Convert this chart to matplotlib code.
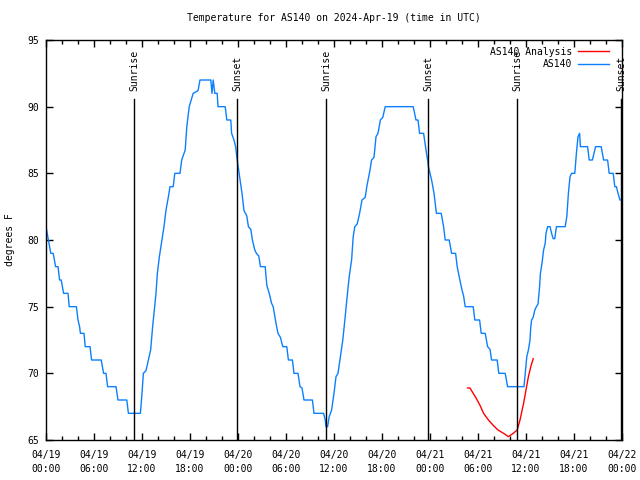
import pandas as pd
import matplotlib
matplotlib.use('Agg')
import matplotlib.pyplot as plt
import matplotlib.dates as mdates

start = pd.Timestamp('2024-04-19 00:00')

# AS140 observations: hours after 04/19 00:00 UTC, degrees F
obs_hours = [0, 0.3, 0.6, 0.9, 1.2, 1.5, 1.7, 1.9, 2.2, 2.75, 2.9, 3.8, 4.0, 4.2, 4.3, 4.75,
             4.9, 5.5, 5.7, 6.9, 7.2, 7.5, 7.7, 8.75, 9.0, 10.1, 10.3, 11.8, 12.0, 12.17,
             12.5, 12.8, 13.08, 13.33, 13.5, 13.75, 13.92, 14.17, 14.46, 14.75, 15.0, 15.3,
             15.5, 15.9, 16.1, 16.75, 16.96, 17.4, 17.6, 17.9, 18.4, 19.0, 19.25, 20.6,
             20.75, 20.9, 21.1, 21.4, 21.5, 22.4, 22.6, 23.1, 23.2, 23.5, 23.7, 23.9, 24.2,
             24.5, 24.75, 25.1, 25.3, 25.6, 25.8, 26.1, 26.3, 26.6, 26.8, 27.4, 27.6, 27.9,
             28.2, 28.4, 28.75, 29.0, 29.3, 29.6, 30.1, 30.3, 30.8, 31.0, 31.5, 31.75, 32.0,
             32.25, 33.3, 33.5, 34.7, 34.9, 35.0, 35.2, 35.4, 35.7, 36.0, 36.25, 36.5, 36.8,
             37.1, 37.4, 37.6, 37.9, 38.2, 38.4, 38.6, 38.9, 39.2, 39.5, 39.9, 40.1, 40.5,
             40.7, 41.0, 41.25, 41.5, 41.8, 42.1, 42.4, 45.9, 46.25, 46.5, 46.7, 47.2, 47.5,
             47.7, 47.8, 48.2, 48.5, 48.8, 49.4, 49.7, 49.9, 50.4, 50.7, 51.2, 51.4, 51.7,
             52.0, 52.2, 52.4, 53.4, 53.6, 54.2, 54.4, 54.9, 55.2, 55.5, 55.7, 56.4, 56.6,
             57.4, 57.7, 59.75, 59.9, 60.1, 60.3, 60.5, 60.6, 60.7, 60.9, 61.1, 61.3, 61.5,
             61.7, 61.8, 62.0, 62.2, 62.4, 62.5, 62.7, 63.0, 63.2, 63.4, 63.6, 63.8, 64.9,
             65.1, 65.3, 65.5, 65.7, 66.1, 66.3, 66.5, 66.7, 66.8, 67.7, 67.9, 68.3, 68.7,
             69.4, 69.7, 70.2, 70.4, 70.9, 71.1, 71.3, 71.5, 71.75, 71.95]
obs_temps = [81, 80, 79, 79, 78, 78, 77, 77, 76, 76, 75, 75, 74, 73.5, 73, 73,
             72, 72, 71, 71, 70, 70, 69, 69, 68, 68, 67, 67, 68.5, 70,
             70.2, 71, 71.75, 73.5, 74.5, 76, 77.5, 78.75, 79.9, 81, 82.25, 83.25,
             84, 84, 85, 85, 86, 86.75, 88.5, 90, 91, 91.2, 92, 92,
             91, 92, 91, 91, 90, 90, 89, 89, 88, 87.5, 87, 86, 84.75,
             83.5, 82.2, 81.8, 81, 80.8, 80, 79.25, 79, 78.8, 78, 78, 76.6, 76,
             75.25, 75, 73.75, 73, 72.7, 72, 72, 71, 71, 70, 70, 69, 68.9,
             68, 68, 67, 67, 66.5, 66, 66, 66.75, 67.25, 68.5, 69.75, 70, 71.25,
             72.5, 74.25, 75.5, 77.25, 78.5, 80.25, 81, 81.2, 82, 83, 83.2, 84, 85.25,
             86, 86.2, 87.75, 88, 89, 89.2, 90, 90, 89, 89, 88, 88, 86.75,
             86, 85.5, 84.5, 83.5, 82, 82, 81, 80, 80, 79, 79, 78, 77.1,
             76.25, 75.8, 75, 75, 74, 74, 73, 73, 72, 71.8, 71, 71, 70,
             70, 69, 69, 70, 71.25, 71.75, 72.5, 73.5, 74, 74.2, 74.75, 75, 75.2,
             76.5, 77.5, 78.25, 79.25, 79.75, 80.5, 81, 81, 80.5, 80.1, 80.1, 81, 81,
             81.75, 83.5, 84.75, 85, 85, 86.5, 87.75, 88, 87, 87, 86, 86, 87,
             87, 86, 86, 85, 85, 84, 84, 83.5, 83, 83]

# AS140 analysis
ana_hours = [52.7, 53.0, 53.4, 53.8, 54.25, 54.7, 55.3, 55.9, 56.5, 57.2, 57.8, 58.4,
             58.9, 59.25, 59.7, 60.0, 60.3, 60.6, 60.9]
ana_temps = [68.9, 68.9, 68.5, 68.1, 67.6, 67.0, 66.5, 66.1, 65.75, 65.5, 65.25, 65.5,
             65.75, 66.5, 67.75, 68.75, 69.75, 70.5, 71.1]

# sun events (hours after start)
sun_hours = [11.05, 23.92, 35.03, 47.8, 58.9, 71.93]
sun_names = ['Sunrise', 'Sunset', 'Sunrise', 'Sunset', 'Sunrise', 'Sunset']

y_ticks = [65, 70, 75, 80, 85, 90, 95]


def to_time(hours):
    return start + pd.to_timedelta(hours, unit='h')


plt.rcParams['font.family'] = ['DejaVu Sans Mono']
plt.rcParams['font.size'] = 7

fig = plt.figure(figsize=(6.4, 4.8), dpi=100)
ax = fig.add_axes([46 / 640, 40 / 480, 576 / 640, 400 / 480])

ax.plot(to_time(ana_hours), ana_temps, color='#ff0000', lw=1.0, label='AS140 Analysis')
ax.plot(to_time(obs_hours), obs_temps, color='#0a80ff', lw=1.0, label='AS140')

for h, name in zip(sun_hours, sun_names):
    t = to_time(h)
    ax.plot([t, t], [65, 90.55], color='black', lw=1.0)
    ax.text(t, 91.15, name, rotation=90, ha='center', va='bottom', clip_on=False)

ax.set_xlim(start, start + pd.Timedelta(hours=72))
ax.set_ylim(65, 95)
ax.set_yticks(y_ticks)
ax.xaxis.set_major_locator(mdates.HourLocator(byhour=[0, 6, 12, 18]))
ax.xaxis.set_minor_locator(mdates.HourLocator(interval=2))
ax.xaxis.set_major_formatter(mdates.DateFormatter('%m/%d\n%H:%M'))
for lbl in ax.get_xticklabels():
    lbl.set_linespacing(1.5)
ax.tick_params(which='both', direction='in', top=True, right=True, width=1.0, color='black')
ax.tick_params(which='major', length=5)
ax.tick_params(which='minor', length=3)
ax.tick_params(axis='x', pad=7)
ax.tick_params(axis='y', pad=5)
for s in ax.spines.values():
    s.set_linewidth(1.0)

ax.set_title('Temperature for AS140 on 2024-Apr-19 (time in UTC)', fontsize=7, pad=14)
ax.set_ylabel('degrees F', labelpad=9)

ax.legend(loc='upper right', bbox_to_anchor=(0.985, 0.993), frameon=False, markerfirst=False,
          handlelength=3.2, handletextpad=0.6, labelspacing=0.25, borderaxespad=0.0)

fig.savefig('out.png', dpi=100)
